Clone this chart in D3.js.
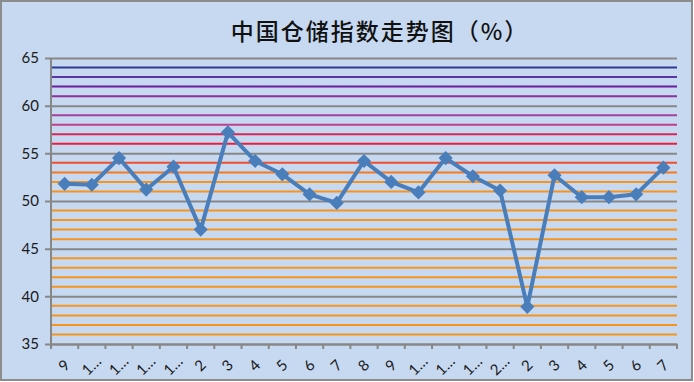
<!DOCTYPE html>
<html>
<head>
<meta charset="utf-8">
<script src="https://cdn.jsdelivr.net/npm/d3@7"></script>
<style>
  html, body { margin: 0; padding: 0; background: #fff; }
  svg { display: block; }
</style>
</head>
<body>
<div id="chart"></div>
<script>
// data
const months = ["9","1…","1…","1…","1…","2","3","4","5","6","7","8","9","1…","1…","1…","2…","2","3","4","5","6","7"];
const storageIndex = [51.8, 51.7, 54.5, 51.2, 53.6, 47.0, 57.2, 54.2, 52.8, 50.7, 49.8, 54.2, 52.0, 50.9, 54.5, 52.6, 51.1, 38.9, 52.7, 50.4, 50.4, 50.7, 53.5];
const yTicks = [35, 40, 45, 50, 55, 60, 65];
const minorLines = [36,37,38,39,41,42,43,44,46,47,48,49,51,52,53,54,56,57,58,59,61,62,63,64];

// colour of each minor gridline
const minorColor = {
  54: "#f04e2c", 56: "#ec1c3c", 57: "#d9255a", 58: "#c23d8c", 59: "#a2409a",
  61: "#8d2f9c", 62: "#6c1c9c", 63: "#5a36a4", 64: "#2c3a94", 53: "#f8791c"
};

const width = 694, height = 382;
const margin = { top: 58, right: 17, bottom: 38, left: 51 };

const svg = d3.select("#chart").append("svg")
  .attr("width", width)
  .attr("height", height);

// background + frame
svg.append("rect")
  .attr("x", 1).attr("y", 1)
  .attr("width", width - 3).attr("height", height - 3)
  .attr("fill", "#c6d9f1")
  .attr("stroke", "#8c8c8c")
  .attr("stroke-width", 2);

const x = d3.scaleBand()
  .domain(d3.range(months.length))
  .range([margin.left, width - margin.right]);

const y = d3.scaleLinear()
  .domain([35, 65])
  .range([height - margin.bottom, margin.top]);

// minor coloured gridlines
svg.append("g")
  .selectAll("line")
  .data(minorLines)
  .join("line")
    .attr("x1", margin.left + 1)
    .attr("x2", width - margin.right)
    .attr("y1", d => y(d))
    .attr("y2", d => y(d))
    .attr("stroke", d => minorColor[d] || "#f7941e")
    .attr("stroke-width", 2);

// y axis with major gridlines
function yAxis(g) {
  g.attr("transform", `translate(${margin.left},0)`)
    .call(d3.axisLeft(y)
      .tickValues(yTicks)
      .tickSize(-(width - margin.right - margin.left))
      .tickSizeOuter(0)
      .tickPadding(12))
    .attr("font-size", "15px")
    .attr("font-family", "Lato, 'Open Sans', sans-serif");
  g.select(".domain").remove();
  g.selectAll(".tick line")
    .attr("x1", -6)
    .attr("stroke", "#878787")
    .attr("stroke-width", 2);
  g.selectAll(".tick text").attr("fill", "#1a1a1a");
}
svg.append("g").call(yAxis);

// y axis line
svg.append("line")
  .attr("x1", margin.left).attr("x2", margin.left)
  .attr("y1", margin.top).attr("y2", height - margin.bottom + 5)
  .attr("stroke", "#878787").attr("stroke-width", 2);

// x axis
function xAxis(g) {
  g.attr("transform", `translate(0,${height - margin.bottom})`)
    .call(d3.axisBottom(x).tickFormat(i => months[i]).tickSize(0))
    .attr("font-size", "15px")
    .attr("font-family", "Lato, 'Open Sans', sans-serif");
  g.select(".domain")
    .attr("stroke", "#878787")
    .attr("stroke-width", 2);
  g.selectAll(".tick text")
    .attr("fill", "#1a1a1a")
    .attr("y", 0)
    .attr("dy", 0)
    .attr("text-anchor", "middle")
    .attr("dominant-baseline", "central")
    .attr("transform", "translate(-1,21) rotate(-45)");
}
svg.append("g").call(xAxis);

// x tick marks at category boundaries
svg.append("g")
  .selectAll("line")
  .data(d3.range(months.length + 1))
  .join("line")
    .attr("x1", i => i < months.length ? x(i) : x(i - 1) + x.bandwidth())
    .attr("x2", i => i < months.length ? x(i) : x(i - 1) + x.bandwidth())
    .attr("y1", height - margin.bottom)
    .attr("y2", height - margin.bottom + 5)
    .attr("stroke", "#878787")
    .attr("stroke-width", 2);

// series line
const line = d3.line()
  .x((d, i) => x(i) + x.bandwidth() / 2)
  .y(d => y(d));

svg.append("path")
  .datum(storageIndex)
  .attr("fill", "none")
  .attr("stroke", "#4a7ebb")
  .attr("stroke-width", 4)
  .attr("stroke-linejoin", "round")
  .attr("d", line);

// diamond markers
svg.append("g")
  .attr("fill", "#4a7ebb")
  .selectAll("path")
  .data(storageIndex)
  .join("path")
    .attr("d", d3.symbol(d3.symbolSquare, 100))
    .attr("transform", (d, i) => `translate(${x(i) + x.bandwidth() / 2},${y(d)}) rotate(45)`);

// title
svg.append("text")
  .attr("x", 380)
  .attr("y", 40)
  .attr("text-anchor", "middle")
  .attr("font-family", "'Noto Sans CJK SC', sans-serif")
  .attr("font-size", "23px")
  .attr("font-weight", 500)
  .attr("letter-spacing", "2px")
  .attr("fill", "#111")
  .text("中国仓储指数走势图（%）");
</script>
</body>
</html>
